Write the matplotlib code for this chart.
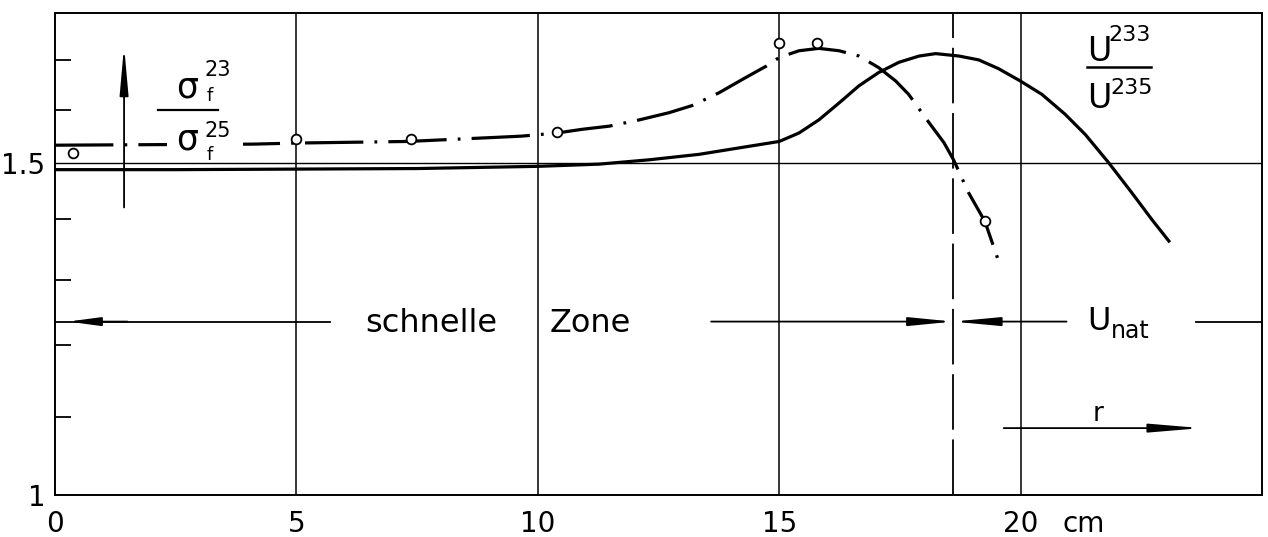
import numpy as np
import matplotlib.pyplot as plt
from matplotlib.patches import Rectangle
from matplotlib.ticker import FixedLocator, FixedFormatter, NullFormatter
from matplotlib.transforms import blended_transform_factory

plt.rcParams['font.family'] = ['DejaVu Sans']
plt.rcParams['lines.scale_dashes'] = False

# U233/U235 (durchgezogene Kurve)
r_u = [0.0, 2.5, 5.0, 7.5, 10.0, 11.27, 12.31, 13.34, 14.17, 15.0, 15.41, 15.82,
       16.24, 16.65, 17.06, 17.48, 17.9, 18.24, 18.72, 19.13, 19.54, 19.99,
       20.44, 20.92, 21.34, 21.82, 22.3, 22.72, 23.07]
u_ratio = [1.487, 1.487, 1.488, 1.489, 1.493, 1.497, 1.505, 1.515, 1.527, 1.539,
           1.555, 1.580, 1.613, 1.647, 1.674, 1.695, 1.708, 1.713, 1.708, 1.700,
           1.682, 1.657, 1.630, 1.591, 1.552, 1.500, 1.446, 1.399, 1.363]

# sigma_f23 / sigma_f25 (strichpunktierte Kurve)
r_sig = [0.0, 2.0, 4.1, 5.0, 7.3, 9.2, 9.66, 10.4, 10.92, 11.48, 12.1, 12.72,
         13.2, 13.75, 14.31, 14.73, 15.0, 15.41, 15.82, 16.24, 16.65, 17.06,
         17.41, 17.68, 18.1, 18.41, 18.61, 18.92, 19.26, 19.57]
sig_ratio = [1.532, 1.533, 1.534, 1.536, 1.539, 1.547, 1.549, 1.555, 1.562, 1.568,
             1.580, 1.594, 1.608, 1.633, 1.664, 1.687, 1.705, 1.719, 1.724, 1.719,
             1.708, 1.684, 1.657, 1.630, 1.575, 1.537, 1.505, 1.446, 1.396, 1.324]

# Messpunkte
r_meas = [0.37, 5.0, 7.38, 10.4, 15.0, 15.78, 19.26]
sig_meas = [1.518, 1.543, 1.543, 1.556, 1.735, 1.735, 1.396]

r_grid = [5, 10, 15, 20]
r_boundary = 18.6
xticks = [0, 5, 10, 15, 20]
xlabels = ['0', '5', '10', '15', '20']
yticks_major = [1, 1.5]
ylabels = ['1', '1.5']
yticks_minor = [1.1, 1.2, 1.3, 1.4, 1.6, 1.7]

fig = plt.figure(figsize=(12.68, 5.37), dpi=100)
ax = fig.add_axes([0.0434, 0.0782, 0.9519, 0.8976])
ax.set_yscale('log')
ax.set_xlim(0, 25)
ax.set_ylim(1, 1.8)

for s in ax.spines.values():
    s.set_linewidth(1.4)

ax.set_xticks(xticks)
ax.set_xticklabels(xlabels)
ax.yaxis.set_major_locator(FixedLocator(yticks_major))
ax.yaxis.set_major_formatter(FixedFormatter(ylabels))
ax.yaxis.set_minor_locator(FixedLocator(yticks_minor))
ax.yaxis.set_minor_formatter(NullFormatter())
ax.xaxis.set_minor_locator(FixedLocator([]))
ax.tick_params(axis='x', which='major', length=0, pad=11, labelsize=20)
ax.tick_params(axis='y', which='major', length=0, pad=7, labelsize=20)
ax.tick_params(axis='y', which='minor', direction='in', length=11.5, width=1.3)

# gitter
for g in r_grid:
    ax.axvline(g, color='k', lw=1.1, zorder=1)
ax.axhline(1.5, color='k', lw=1.0, zorder=1)
ax.axvline(r_boundary, color='k', lw=1.3, dashes=(40, 7), zorder=1)

# kurven
ax.plot(r_u, u_ratio, color='k', lw=2.3, solid_joinstyle='round', zorder=2)
ax.plot(r_sig, sig_ratio, color='k', lw=2.3, dashes=(42, 8, 2, 8),
        dash_joinstyle='round', zorder=2)
ax.plot(r_meas, sig_meas, 'o', mfc='white', mec='k', ms=7, mew=1.3, zorder=4)

# luecke fuer die beschriftung
ax.add_patch(Rectangle((2.32, 1.52), 1.57, 0.024, facecolor='white',
                       edgecolor='none', zorder=2.5))


def arrow(x0, y0, x1, y1, hl, hw=2.6):
    ax.annotate('', xy=(x1, y1), xytext=(x0, y0),
                arrowprops=dict(arrowstyle=f'-|>,head_length={hl},head_width={hw}',
                                lw=1.3, color='k', shrinkA=0, shrinkB=0,
                                mutation_scale=1), zorder=3)


# sigma pfeil
arrow(1.43, 1.42, 1.43, 1.729, 29)

# schnelle Zone / U_nat
yz = 1.2355
ax.plot([0, 5.69], [yz, yz], color='k', lw=1.3)
arrow(1.5, yz, 0.27, yz, 19.5)
arrow(13.59, yz, 18.6, yz, 26.5)
arrow(20.95, yz, 18.6, yz, 28)
ax.plot([23.64, 25], [yz, yz], color='k', lw=1.3)
ax.text(7.8, 1.220, 'schnelle', fontsize=23, ha='center', va='baseline')
ax.text(11.09, 1.220, 'Zone', fontsize=23, ha='center', va='baseline')
ax.text(21.37, 1.223, 'U', fontsize=23, ha='left', va='baseline')
ax.text(21.86, 1.211, 'nat', fontsize=17, ha='left', va='baseline')

# r pfeil
arrow(19.65, 1.085, 23.74, 1.085, 31)
ax.text(21.6, 1.095, 'r', fontsize=19, ha='center', va='baseline')

# sigma bruch
ax.text(2.50, 1.624, 'σ', fontsize=25, ha='left', va='baseline', zorder=3)
ax.text(3.10, 1.666, '23', fontsize=15, ha='left', va='baseline')
ax.text(3.14, 1.616, 'f', fontsize=13, ha='left', va='baseline')
ax.plot([2.13, 3.37], [1.600, 1.600], color='k', lw=1.6)
ax.text(2.50, 1.524, 'σ', fontsize=25, ha='left', va='baseline', zorder=3)
ax.text(3.10, 1.548, '25', fontsize=15, ha='left', va='baseline')
ax.text(3.14, 1.505, 'f', fontsize=13, ha='left', va='baseline')

# U233 / U235 bruch
ax.text(21.37, 1.697, 'U', fontsize=24, ha='left', va='baseline')
ax.text(21.82, 1.739, '233', fontsize=16, ha='left', va='baseline')
ax.plot([21.37, 22.71], [1.685, 1.685], color='k', lw=1.8)
ax.text(21.37, 1.604, 'U', fontsize=24, ha='left', va='baseline')
ax.text(21.86, 1.630, '235', fontsize=16, ha='left', va='baseline')

# einheit
trans = blended_transform_factory(ax.transData, ax.transAxes)
ax.text(21.3, -0.031, 'cm', fontsize=20, ha='center', va='top', transform=trans)

fig.savefig('out.png', dpi=100)
